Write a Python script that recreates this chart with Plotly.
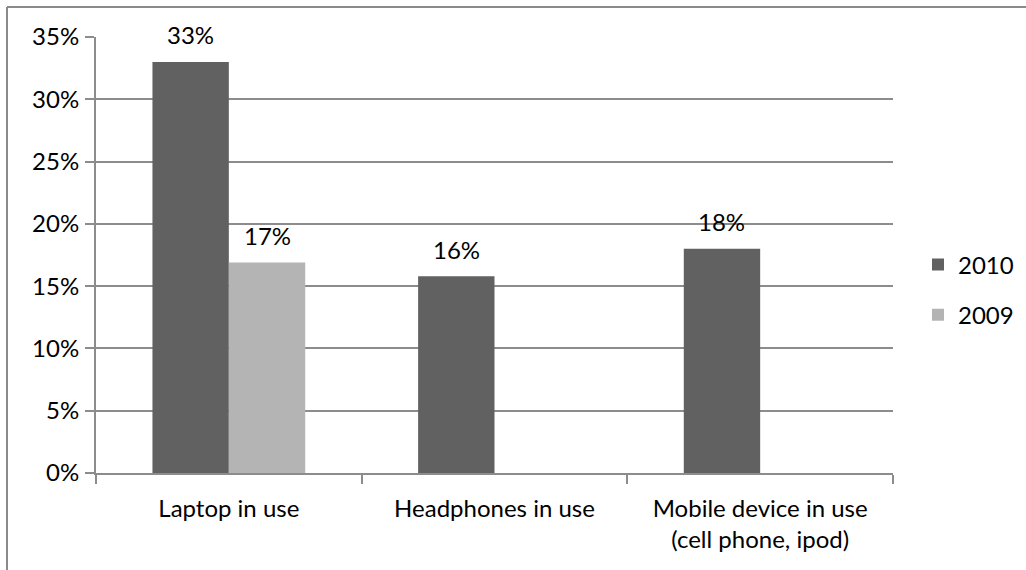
import plotly.graph_objects as go

# Share of observations by device type, per year
categories = ["Laptop in use", "Headphones in use", "Mobile device in use<br>(cell phone, ipod)"]
values_2010 = [0.33, 0.158, 0.18]
values_2009 = [0.169, None, None]
label_2010 = ["33%", "16%", "18%"]
label_2009 = ["17%", None, None]

W, H = 1026, 570
ML, MR, MT, MB = 96, 133, 37, 97
PLOT_W = W - ML - MR
BARGAP = 0.425

FONT = "Lato, 'Open Sans', sans-serif"
FS = 24
GRID = "#8c8c8c"

fig = go.Figure()
fig.add_trace(go.Bar(name="2010", x=categories, y=values_2010,
                     marker=dict(color="#616161", line=dict(width=0)),
                     legendgroup="a"))
fig.add_trace(go.Bar(name="2009", x=categories, y=values_2009,
                     marker=dict(color="#b4b4b4", line=dict(width=0)),
                     legendgroup="b"))

# value labels above each bar, offset to the bar's slot in the group
slot = PLOT_W / len(categories) * (1 - BARGAP) / 4
for series, labels, shift in ((values_2010, label_2010, -slot), (values_2009, label_2009, slot)):
    for cat, v, t in zip(categories, series, labels):
        if v is None:
            continue
        fig.add_annotation(x=cat, y=v, text=t, showarrow=False,
                           xshift=shift, yshift=27, yanchor="middle",
                           font=dict(size=FS, color="#000000", family=FONT))

# outer chart frame
def px_x(p):
    return (p - ML) / PLOT_W

def px_y(p):
    return (H - MB - p) / (H - MT - MB)

frame = dict(color="#8a8a8a", width=2)
fig.add_shape(type="line", xref="paper", yref="paper",
              x0=px_x(7), y0=px_y(7), x1=px_x(W + 5), y1=px_y(7), line=frame)
fig.add_shape(type="line", xref="paper", yref="paper",
              x0=px_x(7), y0=px_y(7), x1=px_x(7), y1=px_y(H + 5), line=frame)

fig.update_layout(
    width=W, height=H,
    margin=dict(l=ML, r=MR, t=MT, b=MB, autoexpand=False),
    paper_bgcolor="white", plot_bgcolor="white",
    barmode="group", bargap=BARGAP, bargroupgap=0,
    font=dict(family=FONT, size=FS, color="#000000"),
    legend=dict(xref="container", yref="container",
                x=918 / W, xanchor="left", y=(H - 290) / H, yanchor="middle",
                tracegroupgap=16, font=dict(size=FS)),
    xaxis=dict(showgrid=False, showline=True, linecolor=GRID, linewidth=2,
               ticks="outside", tickson="boundaries", ticklen=9, tickwidth=2,
               tickcolor=GRID, ticklabelstandoff=13),
    yaxis=dict(range=[0, 0.35], dtick=0.05, tickformat=".0%",
               showgrid=True, gridcolor=GRID, gridwidth=2,
               showline=True, linecolor=GRID, linewidth=2,
               ticks="outside", ticklen=9, tickwidth=2, tickcolor=GRID,
               ticklabelstandoff=1, zeroline=False),
)

fig.write_html("out.html")
